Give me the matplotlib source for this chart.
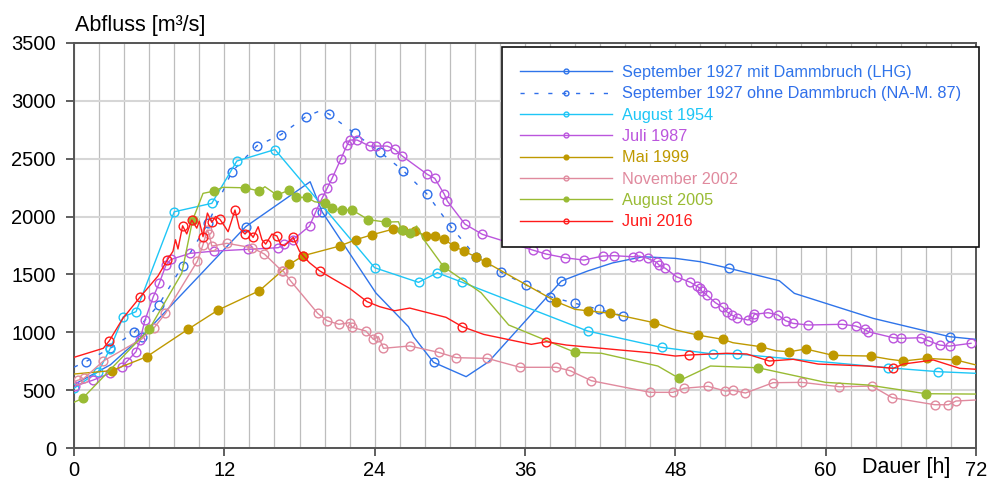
import matplotlib
matplotlib.use("Agg")
import matplotlib.pyplot as plt
from matplotlib.ticker import MultipleLocator

plt.rcParams['font.family'] = ['Liberation Sans', 'DejaVu Sans']

labels = ["September 1927 mit Dammbruch (LHG)",
          "September 1927 ohne Dammbruch (NA-M. 87)",
          "August 1954", "Juli 1987", "Mai 1999",
          "November 2002", "August 2005", "Juni 2016"]

dam_x = [0, 2.9, 5.4, 13.7, 18.85, 19.8, 24.1, 26.7, 27.1, 28.7, 31.3, 33.1, 38.9, 41, 43, 45.4,
         48, 50, 52.3, 56.3, 57.5, 63.8, 69.9, 72]
dam_y = [550, 720, 963, 1912, 2300, 2041, 1340, 1049, 963, 742, 618, 747, 1443, 1530, 1600, 1653,
         1639, 1610, 1553, 1446, 1337, 1121, 963, 940]
dam_mark = [2, 3, 5, 9, 12, 18, 22]

nodam_x = [0, 0.93, 2.9, 4.8, 6.75, 8.67, 10.7, 12.6, 14.6, 16.5, 18.5, 19.7, 20.35, 22.4, 24.4,
           26.3, 28.2, 30.1, 32.1, 34.1, 36.1, 38, 40, 41.9, 43.8]
nodam_y = [700, 747, 863, 1000, 1236, 1576, 1941, 2387, 2610, 2706, 2862, 2915, 2884, 2717, 2559,
           2394, 2191, 1910, 1653, 1518, 1409, 1308, 1251, 1199, 1143]
nodam_mark = [i for i in range(len(nodam_x)) if i not in (0, 11)]

cyan_x = [0, 1.94, 2.87, 3.93, 4.95, 8.0, 11.0, 13.0, 16.04, 24.0, 27.5, 29.0, 31.0, 41.0, 46.9,
          51.0, 52.9, 65.0, 69.0, 72]
cyan_y = [518, 661, 857, 1135, 1179, 2041, 2114, 2479, 2578, 1558, 1432, 1515, 1432, 1012, 871,
          814, 814, 695, 661, 647]
cyan_mark = list(range(len(cyan_x) - 1))

jul_x = [0.08, 1.54, 2.87, 3.8, 4.2, 4.95, 5.27, 5.67, 6.33, 6.8, 7.34, 7.74, 9.26, 11.2, 13.9,
         16.3, 16.8, 17.45, 18.8, 19.3, 19.8, 20.2, 20.6, 21.3, 21.8, 22.0, 22.6, 23.6, 24.1, 25.0,
         25.6, 26.2, 28.2, 28.8, 29.55, 29.8, 31.2, 32.6, 36.6, 37.7, 39.2, 40.7, 42.2, 43.1, 44.6,
         45.1, 45.8, 46.5, 46.7, 47.2, 48.1, 49.2, 49.7, 50.0, 50.1, 50.5, 51.2, 51.8, 52.1, 52.5,
         52.9, 53.8, 54.2, 54.3, 55.4, 56.2, 56.8, 57.4, 58.6, 61.3, 62.4, 63.1, 63.4, 65.4, 66.0,
         67.6, 68.2, 69.1, 69.9, 71.6]
jul_y = [537, 589, 647, 704, 747, 833, 934, 1107, 1308, 1423, 1581, 1630, 1682, 1702, 1717,
         1731, 1760, 1797, 1918, 2041, 2157, 2243, 2329, 2496, 2617, 2660, 2660, 2608, 2608, 2608,
         2580, 2522, 2364, 2329, 2194, 2133, 1935, 1846, 1711, 1676, 1644, 1624, 1659, 1662, 1653,
         1659, 1639, 1605, 1581, 1553, 1480, 1432, 1400, 1380, 1357, 1323, 1256, 1216, 1178, 1150,
         1127, 1107, 1130, 1156, 1170, 1150, 1101, 1078, 1064, 1070, 1055, 1027, 1006, 954, 949,
         954, 928, 891, 882, 906]
jul_mark = list(range(len(jul_x)))

mai_x = [0, 3.0, 5.8, 9.1, 11.5, 14.8, 17.2, 18.3, 21.2, 22.5, 23.8, 25.5, 26.3, 27.2, 28.1,
         28.8, 29.5, 30.3, 31.1, 32.1, 32.9, 38.5, 40, 41, 42.8, 46.3, 48, 49.8, 51.8, 52.6,
         54.8, 56, 57.1, 58.4, 60.6, 63.6, 65.1, 66.2, 68.1, 70.4, 72]
mai_y = [641, 670, 790, 1027, 1193, 1360, 1587, 1662, 1745, 1800, 1843, 1892, 1883, 1877, 1832,
         1834, 1809, 1745, 1703, 1650, 1605, 1265, 1199, 1187, 1165, 1084, 1021, 977, 940, 911,
         877, 842, 833, 857, 802, 796, 768, 753, 776, 762, 719]
mai_mark = [i for i in range(len(mai_x)) if i not in (0, 22, 26, 29, 31, 36, 40)]

nov_x = [0, 0.35, 0.8, 2.34, 5.4, 6.4, 7.3, 9.85, 10.3, 10.64, 10.8, 11.0, 12.2, 14.2, 15.2,
         16.6, 16.7, 17.3, 19.45, 20.2, 21.15, 22.0, 22.2, 23.3, 23.9, 24.3, 24.7, 26.8, 29.1,
         30.5, 33.0, 35.6, 38.5, 39.6, 41.3, 46.0, 47.8, 48.7, 50.6, 52.0, 52.6, 53.6, 55.8,
         58.1, 61.1, 63.7, 65.3, 68.7, 69.8, 70.4, 72]
nov_y = [575, 589, 604, 753, 943, 1041, 1164, 1616, 1757, 1883, 1846, 1745, 1769, 1731, 1676,
         1530, 1530, 1443, 1165, 1101, 1070, 1084, 1044, 1012, 940, 963, 863, 883, 828,
         782, 776, 699, 699, 670, 583, 483, 483, 518, 535, 494, 500, 477, 566,
         569, 531, 537, 437, 376, 376, 408, 417]
nov_mark = [i for i in range(len(nov_x)) if i not in (0, 4, 50)]

aug_x = [0, 0.69, 6.0, 8.6, 9.47, 10.3, 11.2, 11.86, 13.65, 14.8, 15.24, 16.2, 17.2, 17.7, 18.6,
         19.2, 20.0, 20.6, 21.4, 22.2, 23.5, 24.9, 25.9, 26.15, 26.8, 27.35, 28.0, 29.5, 32.5,
         34.7, 40.0, 42.1, 46.6, 48.3, 48.6, 50.8, 54.6, 60.0, 63.4, 68.0, 72]
aug_y = [397, 431, 1027, 1510, 1970, 2200, 2220, 2252, 2248, 2220, 2257, 2185, 2229, 2165, 2165,
         2128, 2114, 2070, 2056, 2056, 1973, 1952, 1955, 1883, 1855, 1918, 1790, 1567, 1342,
         1064, 828, 820, 710, 604, 598, 710, 695, 569, 546, 471, 468]
aug_mark = [1, 2, 4, 6, 8, 9, 11, 12, 13, 14, 16, 17, 18, 19, 20, 21, 23, 24, 27, 30, 33, 36, 39]

jun_x = [0, 2.34, 2.82, 3.9, 5.3, 6.7, 7.45, 7.9, 8.1, 8.3, 8.67, 9.0, 9.4, 9.8, 10.0, 10.3,
         10.5, 10.65, 11.0, 11.3, 11.65, 12.0, 12.3, 12.85, 13.2, 13.65, 13.9, 14.3, 14.7, 15.0,
         15.3, 15.8, 16.2, 16.5, 16.8, 17.5, 18.0, 18.3, 18.8, 19.6, 20.6, 22.0, 23.4, 24.4,
         25.6, 26.8, 29.7, 31.0, 32.7, 36.5, 37.7, 39.3, 43.6, 46.0, 48.0, 49.1, 52.1, 53.7,
         55.5, 57.4, 59.4, 63.3, 65.4, 66.2, 68.6, 70.7, 72]
jun_y = [785, 863, 928, 1121, 1308, 1486, 1625, 1700, 1800, 1720, 1920, 1850, 1970, 1900, 1960,
         1826, 1950, 2030, 1950, 2000, 1975, 1920, 1869, 2056, 1900, 1849, 1880, 1820, 1912, 1800,
         1762, 1849, 1832, 1760, 1748, 1820, 1700, 1659, 1601, 1532, 1467, 1380, 1265, 1222,
         1187, 1210, 1130, 1049, 983, 897, 920, 891, 848, 825, 796, 805, 820, 814,
         753, 768, 727, 710, 690, 727, 762, 690, 682]
jun_mark = [2, 4, 6, 10, 12, 15, 18, 20, 23, 25, 27, 30, 32, 35, 37, 39, 42, 47, 50, 55, 58, 62]

colors = ['#2F74EA', '#2F6FEA', '#1EC6F6', '#BB55DD', '#BF9900', '#E08A9E', '#99BB33', '#FF1A1A']

series = [
    (dam_x, dam_y, dam_mark, '-', False),
    (nodam_x, nodam_y, nodam_mark, (0, (3, 7)), False),
    (cyan_x, cyan_y, cyan_mark, '-', False),
    (jul_x, jul_y, jul_mark, '-', False),
    (mai_x, mai_y, mai_mark, '-', True),
    (nov_x, nov_y, nov_mark, '-', False),
    (aug_x, aug_y, aug_mark, '-', True),
    (jun_x, jun_y, jun_mark, '-', False),
]

fig = plt.figure(figsize=(9.89, 4.79), dpi=100)
ax = fig.add_axes([74 / 989, 1 - 448.3 / 479, 902 / 989, (448.3 - 42.7) / 479])

for (x, y, mk, ls, filled), c, lab in zip(series, colors, labels):
    ax.plot(x, y, linestyle=ls, color=c, lw=1.0, marker='o', markevery=mk,
            markersize=6.3 if not filled else 6.2,
            markerfacecolor=(c if filled else 'none'), markeredgecolor=c,
            markeredgewidth=1.0, label=lab, zorder=3)

ax.set_xlim(0, 72)
ax.set_ylim(0, 3500)
ax.xaxis.set_major_locator(MultipleLocator(12))
ax.xaxis.set_minor_locator(MultipleLocator(2))
ax.yaxis.set_major_locator(MultipleLocator(500))
ax.grid(True, which='minor', axis='x', color='#BDBDBD', lw=0.9, zorder=0)
ax.grid(True, which='major', axis='x', color='#BDBDBD', lw=0.9, zorder=0)
ax.grid(True, which='major', axis='y', color='#D6D6D6', lw=1.5, zorder=0)
ax.tick_params(axis='both', which='major', direction='out', length=6, width=1.2,
               color='#444444', labelsize=14.5)
ax.tick_params(axis='y', which='major', pad=7)
ax.tick_params(axis='x', which='major', pad=3)
ax.tick_params(axis='x', which='minor', length=0)
for s in ax.spines.values():
    s.set_color('#555555')
    s.set_linewidth(1.4)

fig.text(75 / 989, 1 - 25 / 479, 'Abfluss [m³/s]', fontsize=15.5, ha='left', va='center')
fig.text(950 / 989, 1 - 467 / 479, 'Dauer [h]', fontsize=15.5, ha='right', va='center')

leg = ax.legend(loc='upper right', bbox_to_anchor=(979 / 989, 1 - 47 / 479),
                bbox_transform=fig.transFigure, borderaxespad=0, fontsize=11.7,
                handlelength=5.7, handletextpad=0.6, labelspacing=0.39, borderpad=1.1,
                markerscale=0.55, fancybox=False, framealpha=1, edgecolor='#111111')
leg.get_frame().set_linewidth(1.2)
leg.set_zorder(5)
for txt, c in zip(leg.get_texts(), colors):
    txt.set_color(c)

fig.savefig('out.png', dpi=100)
